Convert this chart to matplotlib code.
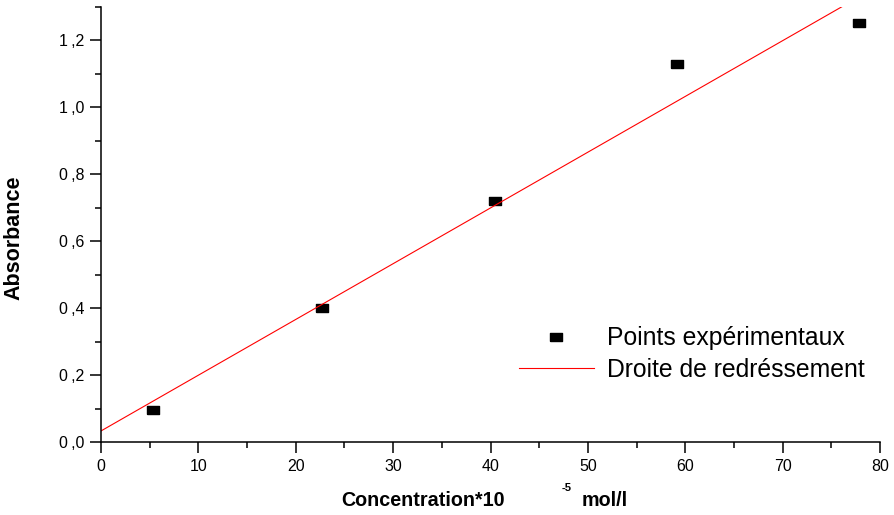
import numpy as np
import matplotlib.pyplot as plt
from matplotlib.ticker import MultipleLocator, FuncFormatter

plt.rcParams['font.family'] = ['Liberation Sans', 'DejaVu Sans']

# experimental points
conc = [5.3, 22.7, 40.5, 59.2, 77.8]
absorb = [0.097, 0.399, 0.721, 1.131, 1.251]

# calibration line end points
fit_x = [0.0, 80.0]
fit_y = [0.033, 1.366]

fig = plt.figure(figsize=(8.94, 5.15), dpi=100)
ax = fig.add_axes([101 / 894, 1 - 442 / 515, 779 / 894, 435 / 515])

rect = [(-1.35, -1), (1.35, -1), (1.35, 1), (-1.35, 1), (-1.35, -1)]
ax.plot(conc, absorb, linestyle='none', marker=rect, markersize=8.5,
        color='black', label='Points expérimentaux')
ax.plot(fit_x, fit_y, color='red', lw=0.8, label='Droite de redréssement')

ax.set_xlim(0, 80)
ax.set_ylim(0, 1.3)
ax.xaxis.set_major_locator(MultipleLocator(10))
ax.xaxis.set_minor_locator(MultipleLocator(5))
ax.yaxis.set_major_locator(MultipleLocator(0.2))
ax.yaxis.set_minor_locator(MultipleLocator(0.1))
ax.yaxis.set_major_formatter(FuncFormatter(lambda v, p: f"{v:.1f}".replace('.', '\u2009,')))

for s in ['top', 'right']:
    ax.spines[s].set_visible(False)
for s in ['left', 'bottom']:
    ax.spines[s].set_linewidth(1.1)
ax.tick_params(which='major', direction='out', length=8, width=1.1, labelsize=11.5, pad=4)
ax.tick_params(which='minor', direction='out', length=4, width=1.1)

ax.set_ylabel('Absorbance', fontsize=15.5, fontweight='bold')
ax.yaxis.set_label_coords(-(101 - 24) / 779, (442 - 238) / 435)

# x label split into pieces to keep the exponent apart
fig.text(341 / 894, 1 - 501 / 515, 'Concentration*10', fontsize=14.2,
         fontweight='bold', va='center', ha='left')
fig.text(562 / 894, 1 - 488 / 515, '-5', fontsize=8,
         fontweight='bold', va='center', ha='left')
fig.text(582 / 894, 1 - 501 / 515, 'mol/l', fontsize=14.2,
         fontweight='bold', va='center', ha='left')

ax.legend(loc='upper left', bbox_to_anchor=(507 / 894, 1 - 314 / 515),
          bbox_transform=fig.transFigure, frameon=False, fontsize=17.8,
          handlelength=3.0, handletextpad=0.55, labelspacing=0.3,
          borderpad=0)

fig.savefig('out.png', dpi=100)
